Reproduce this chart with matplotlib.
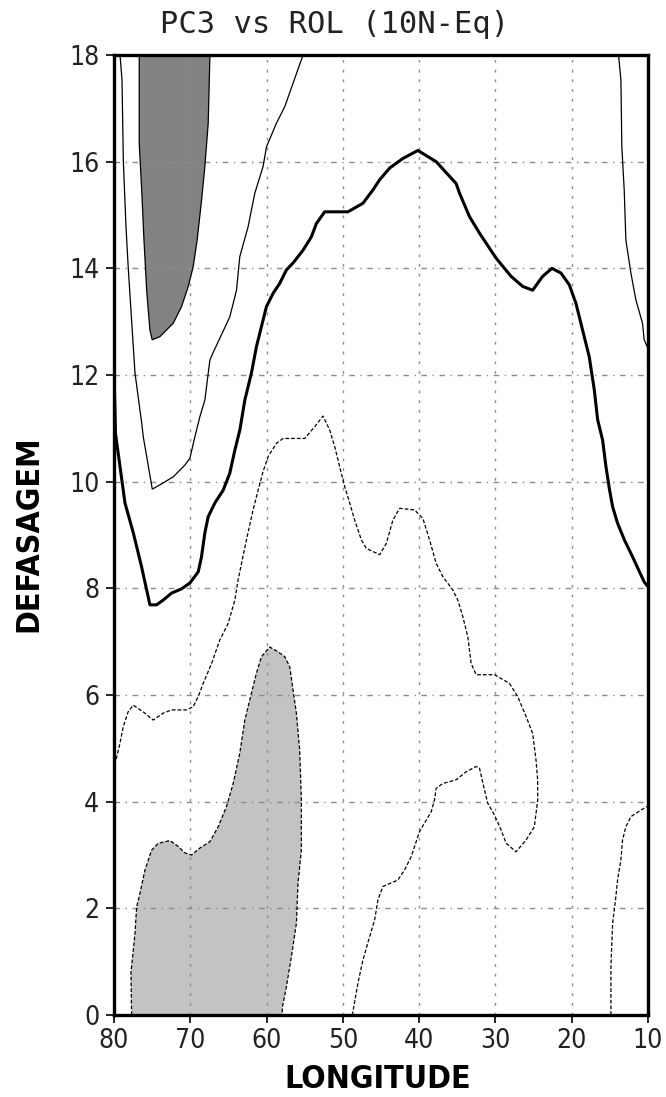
import matplotlib
matplotlib.use("Agg")
import matplotlib.pyplot as plt
import numpy as np

# ---------------- data (longitude, lag) ----------------
title = "PC3 vs ROL (10N-Eq)"
xlabel = "LONGITUDE"
ylabel = "DEFASAGEM"
xticks = [80, 70, 60, 50, 40, 30, 20, 10]
yticks = [0, 2, 4, 6, 8, 10, 12, 14, 16, 18]

# thin solid contour (positive, upper-left "U")
c_pos_lon = [79.21, 78.95, 78.78, 78.43, 78.13, 77.25, 76.37, 76.16, 74.98, 73.98, 72.24, 70.71,
             70.05, 69.40, 68.74, 68.09, 67.43, 67.04, 64.82, 63.94, 63.51, 62.42, 61.54, 60.46,
             60.01, 58.71, 57.62, 56.53, 55.22]
c_pos_lag = [18.0, 17.53, 16.03, 14.78, 14.0, 12.04, 11.1, 10.84, 9.86, 9.94, 10.09, 10.31,
             10.44, 10.84, 11.22, 11.53, 12.28, 12.41, 13.09, 13.59, 14.22, 14.78, 15.41, 15.91,
             16.28, 16.72, 17.03, 17.47, 18.0]

# dark shaded maximum (upper left)
c_max_lon = [76.69, 76.69, 76.37, 76.07, 75.72, 75.29, 74.99, 73.98, 72.24, 71.15, 70.27, 69.62,
             69.10, 68.52, 68.09, 67.65, 67.43, 67.43]
c_max_lag = [18.0, 16.34, 15.47, 14.53, 13.59, 12.84, 12.66, 12.72, 12.97, 13.28, 13.66, 14.03,
             14.53, 15.28, 15.91, 16.72, 17.97, 18.0]

# thick zero contour
c_zero_lon = [80.0, 79.9, 79.8, 79.21, 78.56, 77.47, 76.38, 75.29, 74.42, 73.55, 72.46, 71.15,
              70.05, 68.96, 68.53, 68.09, 67.66, 66.78, 65.69, 64.82, 64.16, 63.50, 62.85, 61.98,
              61.33, 60.46, 60.02, 59.15, 58.27, 57.40, 56.53, 55.22, 54.13, 53.47, 52.38, 50.42,
              49.33, 47.37, 46.06, 45.18, 43.87, 42.13, 40.17, 37.77, 35.15, 34.71, 33.40, 32.09,
              29.91, 27.95, 26.42, 25.12, 23.81, 22.59, 21.40, 20.31, 19.44, 18.57, 17.70, 17.04,
              16.60, 15.95, 15.51, 15.08, 14.64, 13.99, 13.10, 12.02, 10.50, 10.0]
c_zero_lag = [12.0, 11.5, 10.9, 10.28, 9.6, 9.04, 8.4, 7.69, 7.69, 7.78, 7.91, 7.99,
              8.1, 8.31, 8.59, 9.04, 9.34, 9.6, 9.84, 10.16, 10.59, 10.97, 11.53, 12.04,
              12.53, 13.03, 13.28, 13.53, 13.72, 13.97, 14.1, 14.34, 14.59, 14.84, 15.06, 15.06,
              15.06, 15.22, 15.47, 15.66, 15.88, 16.06, 16.21, 16.0, 15.59, 15.41, 14.97, 14.66,
              14.19, 13.85, 13.66, 13.59, 13.85, 14.0, 13.91, 13.69, 13.34, 12.84, 12.34, 11.72,
              11.16, 10.78, 10.28, 9.88, 9.53, 9.22, 8.91, 8.59, 8.12, 8.03]

# thin solid contour (upper right corner)
c_right_lon = [13.86, 13.55, 13.43, 13.12, 12.90, 12.24, 11.59, 10.72, 10.50, 10.0]
c_right_lag = [18.0, 17.53, 16.28, 15.47, 14.53, 13.91, 13.41, 12.97, 12.66, 12.5]

# dashed negative contour (long wavy one)
c_neg_lon = [80.0, 79.74, 79.21, 78.78, 78.13, 77.47, 75.95, 74.86, 73.55, 72.46, 70.49, 69.62,
             68.96, 68.30, 67.21, 66.13, 65.04, 64.16, 63.73, 62.64, 61.77, 61.11, 60.46, 59.80,
             58.71, 57.84, 55.00, 53.69, 52.60, 51.73, 51.07, 50.42, 49.76, 49.10, 48.45, 47.58,
             46.93, 45.18, 44.31, 43.44, 42.57, 40.60, 39.51, 38.64, 37.77, 36.90, 35.59, 34.93,
             34.28, 33.62, 33.18, 32.53, 30.13, 28.17, 27.08, 25.99, 25.12, 24.68, 24.46, 24.46,
             24.90, 25.99, 27.30, 28.60, 29.26, 30.13, 31.00, 31.44, 32.09, 32.53, 33.84, 35.15,
             36.90, 37.77, 37.99, 38.42, 39.95, 41.04, 41.91, 42.79, 44.75, 45.40, 45.84, 46.49,
             47.37, 48.02, 48.76]
c_neg_lag = [4.7, 4.78, 5.1, 5.41, 5.69, 5.81, 5.66, 5.53, 5.66, 5.72, 5.72, 5.78,
             5.97, 6.22, 6.59, 7.03, 7.34, 7.78, 8.16, 8.91, 9.47, 9.84, 10.19, 10.47,
             10.72, 10.81, 10.81, 11.03, 11.23, 10.97, 10.66, 10.28, 9.91, 9.6, 9.28, 8.91,
             8.75, 8.63, 8.84, 9.28, 9.5, 9.47, 9.31, 8.91, 8.47, 8.22, 7.97, 7.78,
             7.47, 7.09, 6.59, 6.38, 6.38, 6.22, 5.97, 5.6, 5.28, 4.78, 4.4, 4.03,
             3.53, 3.28, 3.06, 3.22, 3.47, 3.75, 3.97, 4.22, 4.63, 4.66, 4.56, 4.41,
             4.34, 4.25, 4.03, 3.81, 3.44, 2.97, 2.72, 2.53, 2.41, 2.16, 1.78, 1.47,
             1.03, 0.6, 0.0]

# light shaded minimum (lower left, dashed boundary)
c_min_lon = [77.69, 77.78, 77.25, 77.03, 76.60, 75.94, 75.07, 74.20, 72.67, 71.58, 70.71, 69.83,
             68.74, 67.43, 66.34, 65.25, 64.38, 63.51, 62.85, 62.20, 61.33, 60.67, 59.58, 58.50,
             57.62, 56.96, 56.53, 56.09, 55.66, 55.44, 55.44, 55.88, 56.09, 56.75, 57.40, 57.92,
             57.95]
c_min_lag = [0.0, 0.79, 1.53, 2.03, 2.28, 2.72, 3.09, 3.22, 3.27, 3.16, 3.04, 3.0,
             3.13, 3.25, 3.53, 3.91, 4.34, 4.91, 5.53, 5.91, 6.41, 6.72, 6.9, 6.81,
             6.72, 6.53, 6.09, 5.66, 4.97, 4.03, 3.09, 2.47, 1.72, 1.09, 0.53, 0.15,
             0.0]

# dashed contour lower right
c_neg2_lon = [14.86, 14.86, 14.64, 14.21, 13.99, 13.55, 13.34, 12.90, 12.24, 10.94, 10.0]
c_neg2_lag = [0.0, 0.9, 1.72, 2.22, 2.53, 2.91, 3.28, 3.53, 3.72, 3.84, 3.92]

# ---------------- figure ----------------
W, H = 666, 1097
fig = plt.figure(figsize=(W / 100, H / 100), dpi=100)
ax = fig.add_axes([114 / W, 1 - 1015 / H, (648 - 114) / W, (1015 - 55) / H])
ax.set_xlim(80, 10)
ax.set_ylim(0, 18)

# shaded regions
ax.fill(c_max_lon, c_max_lag, facecolor="#838383", edgecolor="none", zorder=1)
ax.fill(c_min_lon, c_min_lag, facecolor="#c3c3c3", edgecolor="none", zorder=1)

# grid
for xv in xticks[1:-1]:
    ax.axvline(xv, color="#8c8c8c", lw=1.0, ls=(0, (2, 5)), zorder=2)
for yv in yticks[1:-1]:
    ax.axhline(yv, color="#8c8c8c", lw=1.0, ls=(0, (4, 4, 1, 4)), zorder=2)

dash = (0, (3, 1.6))
ax.plot(c_pos_lon, c_pos_lag, color="black", lw=0.9, zorder=3)
ax.plot(c_max_lon, c_max_lag, color="black", lw=0.9, zorder=3)
ax.plot(c_right_lon, c_right_lag, color="black", lw=0.9, zorder=3)
ax.plot(c_zero_lon, c_zero_lag, color="black", lw=2.2, zorder=3)
ax.plot(c_neg_lon, c_neg_lag, color="black", lw=0.9, ls=dash, zorder=3)
ax.plot(c_min_lon, c_min_lag, color="black", lw=0.9, ls=dash, zorder=3)
ax.plot(c_neg2_lon, c_neg2_lag, color="black", lw=0.9, ls=dash, zorder=3)

for s in ax.spines.values():
    s.set_linewidth(2.4)
    s.set_zorder(5)

tick_font = dict(family="DejaVu Sans", size=19, weight="normal", stretch="condensed",
                 color="#222222")
ax.set_xticks(xticks)
ax.set_yticks(yticks)
ax.set_xticklabels([str(v) for v in xticks], **tick_font)
ax.set_yticklabels([str(v) for v in yticks], **tick_font)
ax.tick_params(axis="both", direction="out", length=5.5, width=1.2, top=False, right=False)
ax.tick_params(axis="y", pad=5)
ax.tick_params(axis="x", pad=4)

fig.text(335 / W, 1 - 33 / H, title, ha="center", va="baseline",
         family="DejaVu Sans Mono", size=22, color="#222222")
fig.text(378 / W, 1 - 1079 / H, xlabel, ha="center", va="center",
         family="DejaVu Sans", size=23, weight="bold", stretch="condensed")
fig.text(29 / W, 1 - 534 / H, ylabel, ha="center", va="center", rotation=90,
         family="DejaVu Sans", size=23, weight="bold", stretch="condensed")

fig.savefig("out.png", dpi=100)
